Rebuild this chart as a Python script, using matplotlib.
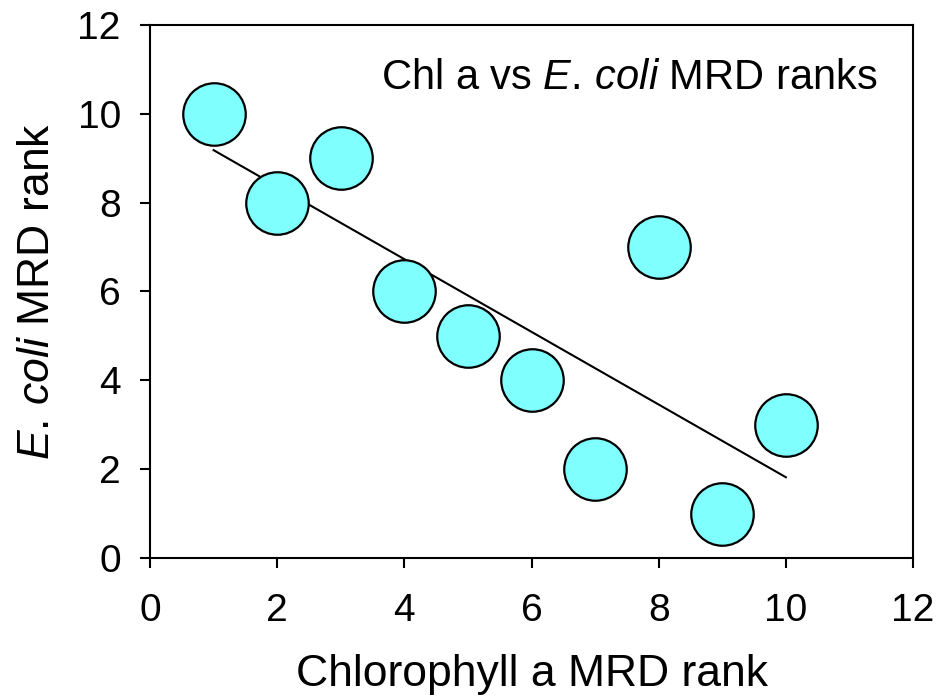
import matplotlib
matplotlib.use("Agg")
import matplotlib.pyplot as plt
import numpy as np

# ranks
chl_rank = [1, 2, 3, 4, 5, 6, 7, 8, 9, 10]
ecoli_rank = [10, 8, 9, 6, 5, 4, 2, 7, 1, 3]
ticks = [0, 2, 4, 6, 8, 10, 12]


def main():
    plt.rcParams['font.family'] = ['Liberation Sans', 'DejaVu Sans']
    plt.rcParams['mathtext.fontset'] = 'custom'
    plt.rcParams['mathtext.rm'] = 'Liberation Sans'
    plt.rcParams['mathtext.it'] = 'Liberation Sans:italic'

    fig = plt.figure(figsize=(9.4, 6.98), dpi=100)
    ax = fig.add_axes([0.1596, 0.2006, 0.8117, 0.7636])

    x = np.array(chl_rank, dtype=float)
    y = np.array(ecoli_rank, dtype=float)

    # linear regression line over the data range
    slope, icpt = np.polyfit(x, y, 1)
    xs = np.array([x.min(), x.max()])
    ax.plot(xs, slope * xs + icpt, color='k', lw=1.5, zorder=2)

    ax.plot(x, y, 'o', ms=45, mfc='#80FFFF', mec='k', mew=1.6, zorder=3,
            clip_on=False)

    ax.set_xlim(0, 12)
    ax.set_ylim(0, 12)
    ax.set_xticks(ticks)
    ax.set_yticks(ticks)
    ax.tick_params(direction='out', length=7, width=1.5, labelsize=28, pad=14)
    ax.tick_params(axis='x', pad=18)
    for s in ax.spines.values():
        s.set_linewidth(1.5)

    ax.set_xlabel('Chlorophyll a MRD rank', fontsize=32, labelpad=18)
    ax.set_ylabel(r'$\mathit{E.\,coli}$ MRD rank', fontsize=32,
                  labelpad=14)
    ax.text(0.954, 0.90, r'Chl a vs $\mathit{E.\,coli}$ MRD ranks',
            transform=ax.transAxes, ha='right', va='center', fontsize=30)

    fig.savefig('out.png', dpi=100)


if __name__ == "__main__":
    main()
